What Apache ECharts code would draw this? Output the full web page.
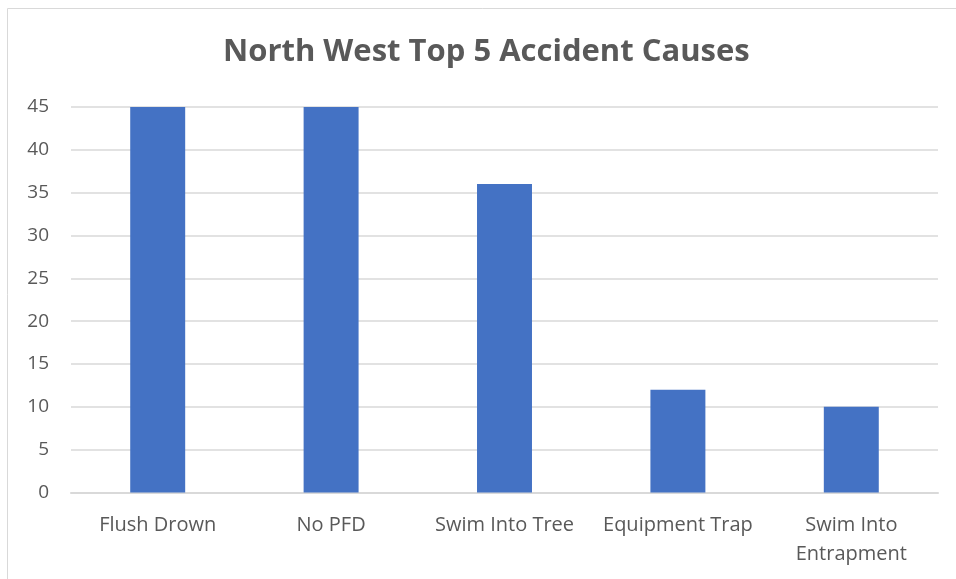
<!DOCTYPE html>
<html><head><meta charset="utf-8">
<script src="https://cdn.jsdelivr.net/npm/echarts@6/dist/echarts.min.js"></script>
<style>html,body{margin:0;padding:0;background:#fff}#c{width:956px;height:579px}</style>
</head><body><div id="c"></div>
<script>
const categories = ["Flush Drown", "No PFD", "Swim Into Tree", "Equipment Trap", "Swim Into\nEntrapment"];
const values = [45, 45, 36, 12, 10];
const chart = echarts.init(document.getElementById('c'));
chart.setOption({
  animation: false,
  graphic: [{type: 'rect', shape: {x: 7.5, y: 8.5, width: 960, height: 600}, style: {fill: 'none', stroke: '#d9d9d9', lineWidth: 1}, silent: true, z: -1}],
  title: {text: 'North West Top 5 Accident Causes', left: 218, top: 32,
    textStyle: {fontFamily: 'Open Sans', fontWeight: 'bold', fontSize: 31, color: '#595959'}},
  grid: {left: 71, right: 18, top: 107, bottom: 86.5},
  xAxis: {type: 'category', data: categories,
    axisLine: {lineStyle: {color: '#d9d9d9', width: 2}}, axisTick: {show: false},
    axisLabel: {fontFamily: 'Open Sans', fontSize: 20, color: '#595959', margin: 18, lineHeight: 29, interval: 0}},
  yAxis: {type: 'value', min: 0, max: 45, interval: 5,
    axisLine: {show: false}, axisTick: {show: false},
    splitLine: {lineStyle: {color: '#d9d9d9', width: 1.5}},
    axisLabel: {fontFamily: 'Open Sans', fontSize: 19, color: '#595959', margin: 22}},
  series: [{type: 'bar', data: values, barWidth: '31.7%', itemStyle: {color: '#4472C4'}}]
});
</script></body></html>
